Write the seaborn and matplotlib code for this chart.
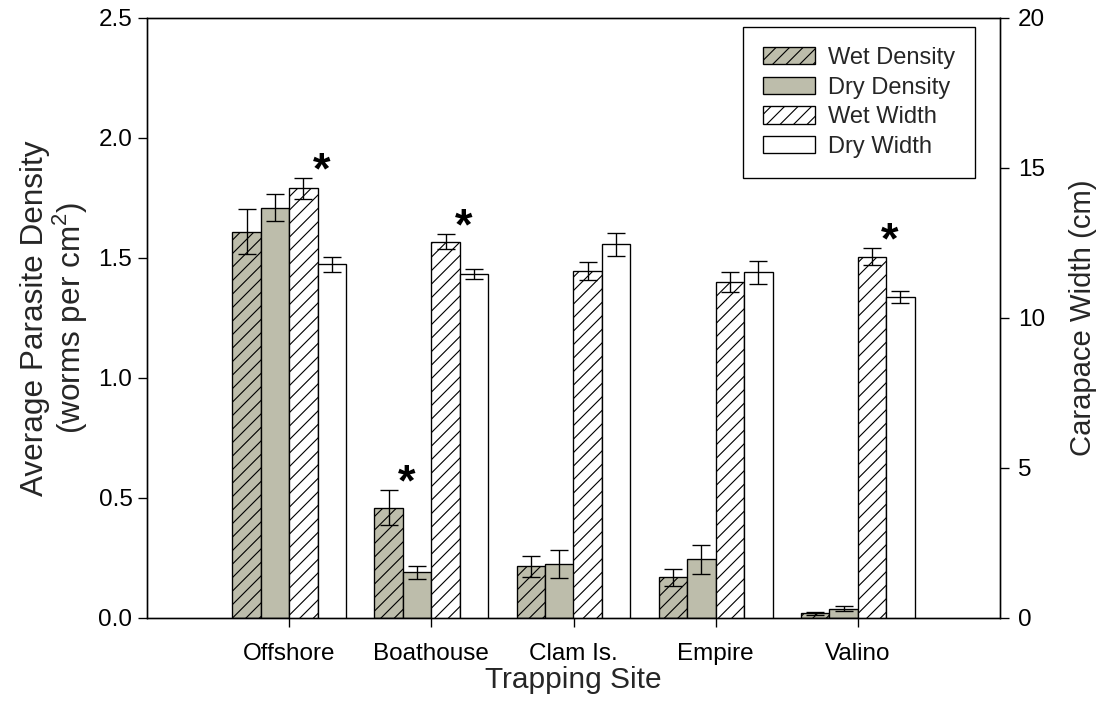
import matplotlib
matplotlib.use("Agg")
import matplotlib.pyplot as plt
import seaborn as sns
import pandas as pd
import numpy as np
from matplotlib.patches import Patch

# ---------------- data ----------------
sites = ["Offshore", "Boathouse", "Clam Is.", "Empire", "Valino"]
series = ["Wet Density", "Dry Density", "Wet Width", "Dry Width"]

wet_density = [1.61, 0.46, 0.215, 0.17, 0.02]
wet_density_err = [0.095, 0.072, 0.044, 0.035, 0.006]
dry_density = [1.71, 0.19, 0.225, 0.245, 0.039]
dry_density_err = [0.055, 0.026, 0.060, 0.060, 0.011]
wet_width = [14.32, 12.54, 11.57, 11.21, 12.04]
wet_width_err = [0.35, 0.25, 0.30, 0.33, 0.28]
dry_width = [11.79, 11.46, 12.46, 11.52, 10.69]
dry_width_err = [0.26, 0.17, 0.38, 0.38, 0.20]

significant = [("Offshore", "Wet Width"), ("Boathouse", "Wet Density"),
               ("Boathouse", "Wet Width"), ("Valino", "Wet Width")]

left_ticks = [0.0, 0.5, 1.0, 1.5, 2.0, 2.5]
right_ticks = [0, 5, 10, 15, 20]

# ---------------- style ----------------
sns.set_style("white")
plt.rcParams["font.family"] = ["Liberation Sans", "DejaVu Sans"]
plt.rcParams["hatch.linewidth"] = 1.0
plt.rcParams["mathtext.fontset"] = "custom"
plt.rcParams["mathtext.rm"] = "Liberation Sans"

GREY = "#bdbdab"
fills = {"Wet Density": GREY, "Dry Density": GREY, "Wet Width": "white", "Dry Width": "white"}
hatches = {"Wet Density": "//", "Dry Density": "", "Wet Width": "//", "Dry Width": ""}

values = {"Wet Density": wet_density, "Dry Density": dry_density,
          "Wet Width": wet_width, "Dry Width": dry_width}
errors = {"Wet Density": wet_density_err, "Dry Density": dry_density_err,
          "Wet Width": wet_width_err, "Dry Width": dry_width_err}

def long_df(names):
    rows = []
    for n in names:
        for s, v in zip(sites, values[n]):
            rows.append({"site": s, "series": n, "value": v})
    return pd.DataFrame(rows)

dens_df = long_df(["Wet Density", "Dry Density"])
width_df = long_df(["Wet Width", "Dry Width"])

DPI = 81
W, H = 1096, 719
fig = plt.figure(figsize=(W / DPI, H / DPI), dpi=DPI)
ax = fig.add_axes([147 / W, 1 - 618 / H, 853 / W, 600 / H])
ax2 = ax.twinx()

LW = 1.2
common = dict(x="site", y="value", hue="series", hue_order=series, order=sites,
              palette=fills, edgecolor="black", linewidth=LW, errorbar=None,
              legend=False, width=0.8, saturation=1)
sns.barplot(data=dens_df, ax=ax, **common)
sns.barplot(data=width_df, ax=ax2, **common)

capsize = 9 * 72 / DPI
asterisk_pos = {}
for a in (ax, ax2):
    for p in a.patches:
        xc = p.get_x() + p.get_width() / 2
        si = int(round(xc))
        k = int(round((xc - si + 0.3) / 0.2))
        name = series[k]
        p.set_hatch(hatches[name])
        p.set_facecolor(fills[name])
        h = p.get_height()
        e = errors[name][si]
        a.errorbar(xc, h, yerr=e, fmt="none", ecolor="black", elinewidth=LW,
                   capsize=capsize, capthick=LW, zorder=5)
        asterisk_pos[(sites[si], name)] = (a, xc, h + e)

for key in significant:
    a, xc, top = asterisk_pos[key]
    a.annotate("*", xy=(xc, top), xytext=(18 * 72 / DPI, 6 * 72 / DPI),
               textcoords="offset points", ha="center", va="center",
               fontsize=40, fontweight="bold", color="black", zorder=6)

ax.set_xlim(-1, 5)
ax.set_ylim(0, 2.5)
ax2.set_ylim(0, 20)
ax.set_yticks(left_ticks)
ax.set_yticklabels([f"{t:.1f}" for t in left_ticks])
ax2.set_yticks(right_ticks)
ax2.set_yticklabels([str(t) for t in right_ticks])
ax.set_xticks(range(len(sites)))
ax.set_xticklabels(sites)

TICK_FS = 21.5
tl = 9 * 72 / DPI
ax.tick_params(axis="y", direction="out", length=tl, width=LW, left=True, right=False,
               labelsize=TICK_FS, pad=5, colors="black")
ax.tick_params(axis="x", direction="out", length=tl, width=LW, bottom=True, top=False,
               labelsize=TICK_FS, pad=14, colors="black")
ax2.tick_params(axis="y", direction="out", length=tl, width=LW, right=True, left=False,
                labelsize=TICK_FS, pad=8, colors="black")

for a in (ax, ax2):
    for s in a.spines.values():
        s.set_visible(True)
        s.set_color("black")
        s.set_linewidth(LW)

ax.set_xlabel("Trapping Site", fontsize=26.5, labelpad=1)
ax.set_ylabel("Average Parasite Density\n(worms per cm$^2$)", fontsize=28,
              labelpad=8, linespacing=1.0)
ax2.set_ylabel("Carapace Width (cm)", fontsize=26, rotation=90, labelpad=21)

handles = [Patch(facecolor=fills[n], edgecolor="black", hatch=hatches[n], linewidth=LW, label=n)
           for n in series]
leg = ax2.legend(handles=handles, loc="upper right", bbox_to_anchor=(0.9707, 0.985),
                 borderaxespad=0, fontsize=21, frameon=True, fancybox=False,
                 edgecolor="black", framealpha=1, handlelength=2.2, handleheight=0.75,
                 labelspacing=0.32, handletextpad=0.55, borderpad=0.85)
leg.get_frame().set_linewidth(LW)

fig.savefig("out.png", dpi=DPI)
